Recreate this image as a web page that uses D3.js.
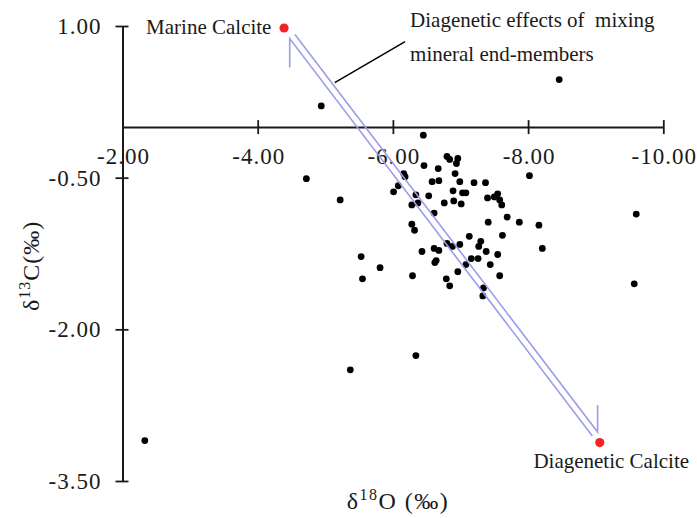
<!DOCTYPE html>
<html>
<head>
<meta charset="utf-8">
<script src="https://cdn.jsdelivr.net/npm/d3@7"></script>
<style>
  body { margin: 0; background: #fff; }
  svg text { font-family: "Liberation Serif", "Times New Roman", serif; fill: #1a1a1a; }
</style>
</head>
<body>
<div id="vizcontainer"></div>
<script>
// samples: d18O vs d13C (per mil)
const d18O = [
  -4.94, -8.46, -6.45, -6.80, -6.84, -6.96, -6.94, -6.46, -6.67, -6.16,
  -6.18, -6.92, -4.72, -6.58, -6.68, -6.99, -7.20, -7.37, -8.02, -6.08,
  -6.01, -6.89, -7.03, -7.08, -6.34, -6.53, -7.40, -7.50, -7.55, -7.58,
  -7.61, -5.22, -6.76, -6.90, -7.01, -6.37, -6.28, -6.61, -7.69, -7.87,
  -8.16, -6.28, -6.32, -7.41, -7.62, -7.13, -9.60, -6.80, -6.88, -6.99,
  -6.61, -6.68, -6.43, -7.30, -7.27, -7.38, -8.21, -7.55, -7.16, -7.26,
  -6.64, -6.62, -5.53, -7.44, -5.81, -7.08, -6.96, -5.55, -6.29, -6.79,
  -6.84, -7.58, -7.34, -7.33, -9.57, -6.34, -5.37, -2.33
];
const d13C = [
  0.21, 0.47, -0.08, -0.29, -0.32, -0.31, -0.36, -0.38, -0.41, -0.46,
  -0.49, -0.46, -0.51, -0.54, -0.53, -0.54, -0.55, -0.55, -0.48, -0.58,
  -0.64, -0.63, -0.65, -0.65, -0.67, -0.68, -0.70, -0.69, -0.66, -0.72,
  -0.77, -0.72, -0.75, -0.73, -0.76, -0.75, -0.77, -0.85, -0.89, -0.94,
  -0.97, -0.96, -1.02, -0.94, -1.07, -1.08, -0.86, -1.15, -1.18, -1.16,
  -1.20, -1.22, -1.23, -1.13, -1.18, -1.23, -1.20, -1.26, -1.30, -1.30,
  -1.32, -1.34, -1.28, -1.36, -1.39, -1.36, -1.43, -1.50, -1.47, -1.50,
  -1.57, -1.47, -1.59, -1.67, -1.55, -2.26, -2.40, -3.10
];

// end members
const endNames = ['Marine Calcite', 'Diagenetic Calcite'],
  endO = [-4.39, -9.06],
  endC = [0.98, -3.12];

const xTicks = [-2, -4, -6, -8, -10],
  yTicks = [1.0, -0.5, -2.0, -3.5];

const noteLines = ['Diagenetic effects of  mixing', 'mineral end-members'],
  leaderFrom = [-5.14, 0.44],
  leaderTo = [-6.18, 0.845];

const
  width = 697,
  height = 518,
  ink = '#1a1a1a',
  arrowColor = '#9c9cea',
  serif = '"Liberation Serif", "Times New Roman", serif'
  ;

const svg = d3.select('#vizcontainer')
  .append('svg')
  .attr('width', width)
  .attr('height', height)
  ;

const x = d3.scaleLinear()
  .domain([-2, -10])
  .range([122.5, 663.3]);

const y = d3.scaleLinear()
  .domain([-3.5, 1])
  .range([481, 26]);

// x axis sits on d13C = 0
const xAxis = svg.append('g')
  .attr('transform', `translate(0,${y(0)})`)
  .call(d3.axisBottom(x).tickValues(xTicks).tickFormat(d => d.toFixed(2)).tickSize(7).tickSizeOuter(0));
xAxis.select('.domain').attr('stroke', ink).attr('stroke-width', 2);
xAxis.selectAll('.tick line').attr('y1', -7).attr('y2', 7).attr('stroke', ink).attr('stroke-width', 1.8);
xAxis.selectAll('.tick text')
  .attr('y', 21)
  .attr('dx', 0.5)
  .style('font-family', serif)
  .style('font-size', '23px')
  .style('letter-spacing', '1px');

const yAxis = svg.append('g')
  .attr('transform', `translate(${x(-2)},0)`)
  .call(d3.axisLeft(y).tickValues(yTicks).tickFormat(d => d.toFixed(2)).tickSize(7).tickSizeOuter(0));
yAxis.select('.domain').attr('stroke', ink).attr('stroke-width', 2);
yAxis.selectAll('.tick line').attr('x1', 6).attr('x2', -7).attr('stroke', ink).attr('stroke-width', 1.8);
yAxis.selectAll('.tick text')
  .attr('x', -21)
  .style('font-family', serif)
  .style('font-size', '23px')
  .style('letter-spacing', '1px');

// axis titles
const xTitle = svg.append('text')
  .attr('x', 398)
  .attr('y', 509)
  .attr('text-anchor', 'middle')
  .attr('font-size', 24)
  .style('letter-spacing', '1.5px');
xTitle.append('tspan').text('δ');
xTitle.append('tspan').attr('font-size', 16).attr('dy', -9).text('18');
xTitle.append('tspan').attr('dy', 9).text('O (‰)');

const yTitle = svg.append('text')
  .attr('transform', 'translate(39,311) rotate(-90)')
  .attr('text-anchor', 'start')
  .attr('font-size', 24)
  .style('letter-spacing', '1px');
yTitle.append('tspan').text('δ');
yTitle.append('tspan').attr('font-size', 16).attr('dy', -9).text('13');
yTitle.append('tspan').attr('dy', 9).text('C(‰)');

// samples
svg.append('g')
  .selectAll('circle')
  .data(d18O)
  .join('circle')
  .attr('cx', d => x(d))
  .attr('cy', (d, i) => y(d13C[i]))
  .attr('r', 3.4)
  .attr('fill', '#000');

// mixing arrow between the end members (double line, half barbs)
const a = [x(endO[0]), y(endC[0])],
  b = [x(endO[1]), y(endC[1])],
  len = Math.hypot(b[0] - a[0], b[1] - a[1]),
  u = [(b[0] - a[0]) / len, (b[1] - a[1]) / len],
  p = [u[1], -u[0]],
  gapStart = 11.8, gapEnd = 9.7, shift = 1.4, half = 3.3;
const s = [a[0] + u[0] * gapStart + p[0] * shift, a[1] + u[1] * gapStart + p[1] * shift],
  e = [b[0] - u[0] * gapEnd + p[0] * shift, b[1] - u[1] * gapEnd + p[1] * shift];
const lineA = [
  [s[0] - p[0] * half, s[1] - p[1] * half + 29],
  [s[0] - p[0] * half, s[1] - p[1] * half],
  [e[0] - p[0] * half, e[1] - p[1] * half]
];
const lineB = [
  [s[0] + p[0] * half, s[1] + p[1] * half],
  [e[0] + p[0] * half, e[1] + p[1] * half],
  [e[0] + p[0] * half, e[1] + p[1] * half - 27]
];
svg.append('g')
  .selectAll('path')
  .data([lineA, lineB])
  .join('path')
  .attr('d', d3.line())
  .attr('fill', 'none')
  .attr('stroke', arrowColor)
  .attr('stroke-width', 1.6);

// annotation
svg.append('line')
  .attr('x1', x(leaderFrom[0]))
  .attr('y1', y(leaderFrom[1]))
  .attr('x2', x(leaderTo[0]))
  .attr('y2', y(leaderTo[1]))
  .attr('stroke', '#000')
  .attr('stroke-width', 1.5);

svg.append('g')
  .selectAll('text')
  .data(noteLines)
  .join('text')
  .attr('x', x(leaderTo[0]) + 5)
  .attr('y', (d, i) => y(leaderTo[1]) - 15 + i * 34)
  .attr('font-size', 21)
  .style('white-space', 'pre')
  .text(d => d);

// end members
svg.append('g')
  .selectAll('circle')
  .data(endO)
  .join('circle')
  .attr('cx', d => x(d))
  .attr('cy', (d, i) => y(endC[i]))
  .attr('r', 4.6)
  .attr('fill', '#f52222');

svg.append('text')
  .attr('x', x(endO[0]) - 12.6)
  .attr('y', y(endC[0]) + 5.6)
  .attr('text-anchor', 'end')
  .attr('font-size', 21)
  .text(endNames[0]);

svg.append('text')
  .attr('x', x(endO[1]) + 11.5)
  .attr('y', y(endC[1]) + 25)
  .attr('text-anchor', 'middle')
  .attr('font-size', 21)
  .text(endNames[1]);
</script>
</body>
</html>
